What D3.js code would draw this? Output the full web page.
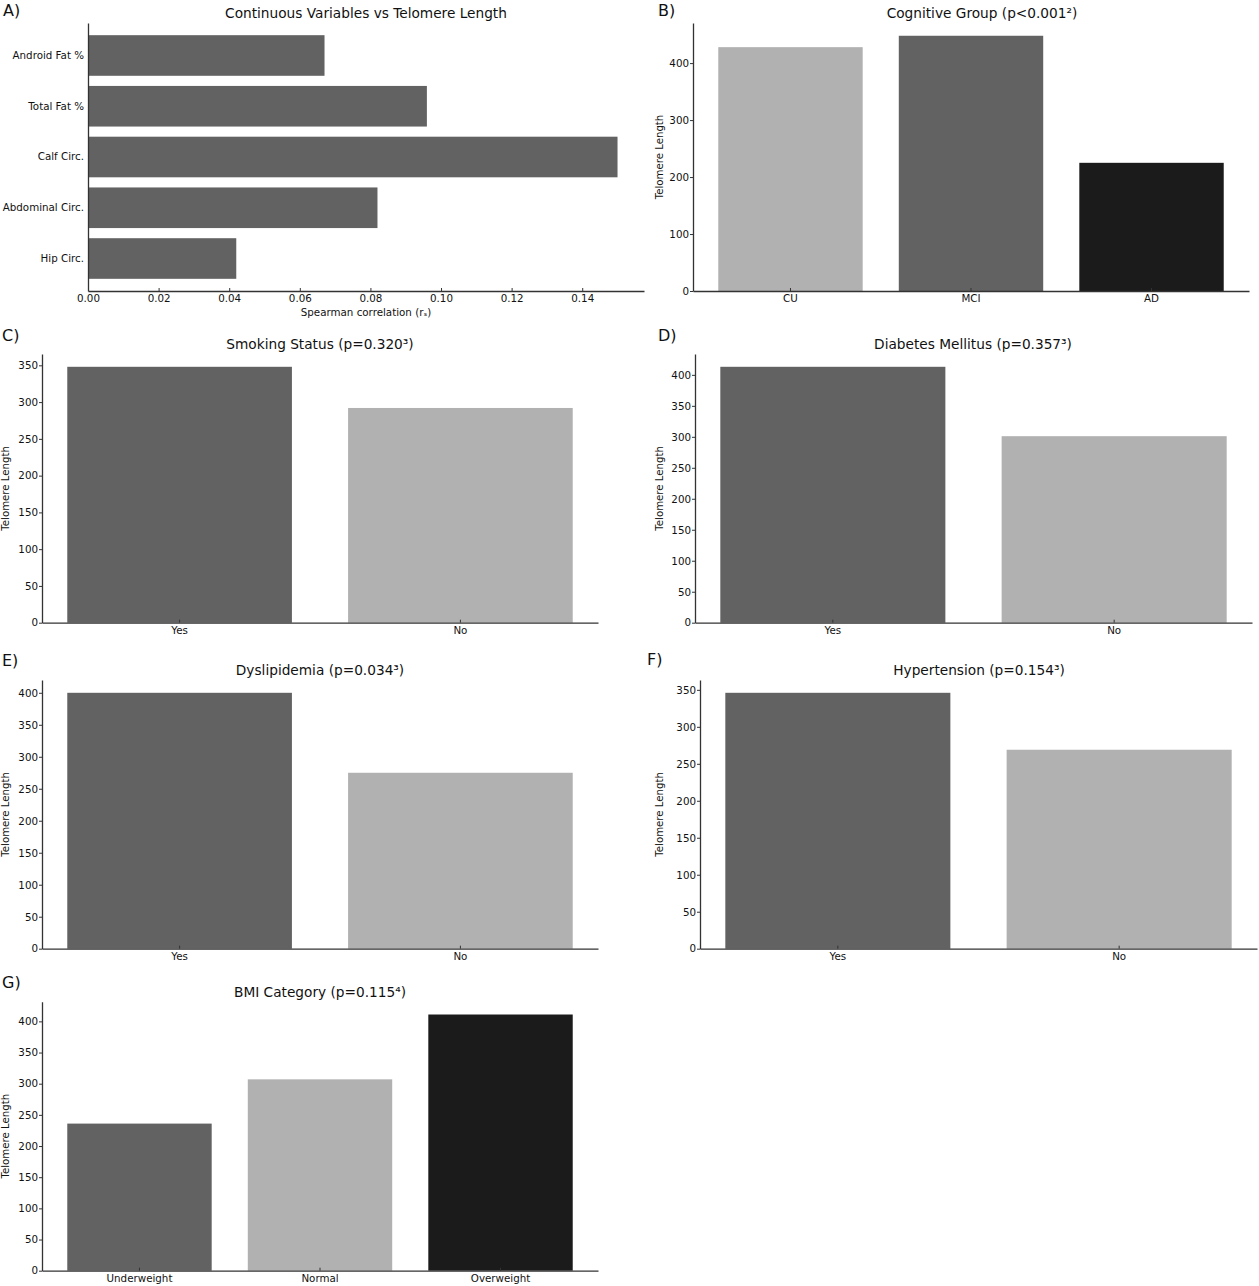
<!DOCTYPE html>
<html>
<head>
<meta charset="utf-8">
<script src="https://cdn.jsdelivr.net/npm/d3@7"></script>
<style>
body { margin: 0; background: #fff; }
text { font-family: "DejaVu Sans", sans-serif; fill: #111; }
</style>
</head>
<body>
<script>
// data
const contVars = ["Android Fat %", "Total Fat %", "Calf Circ.", "Abdominal Circ.", "Hip Circ."];
const contRho = [0.067, 0.096, 0.150, 0.082, 0.042];
const rhoTicks = [0, 0.02, 0.04, 0.06, 0.08, 0.10, 0.12, 0.14];

const cogGroups = ["CU", "MCI", "AD"];
const cogTL = [428, 448, 225];

const yesNo = ["Yes", "No"];
const smokingTL = [348, 292];
const diabetesTL = [413, 301];
const dyslipTL = [400, 275];
const hyperTL = [346, 269];

const bmiCats = ["Underweight", "Normal", "Overweight"];
const bmiTL = [236, 307, 411];

const titles = [
  "Continuous Variables vs Telomere Length",
  "Cognitive Group (p<0.001²)",
  "Smoking Status (p=0.320³)",
  "Diabetes Mellitus (p=0.357³)",
  "Dyslipidemia (p=0.034³)",
  "Hypertension (p=0.154³)",
  "BMI Category (p=0.115⁴)"
];
const letters = ["A)", "B)", "C)", "D)", "E)", "F)", "G)"];

const width = 1259, height = 1286;
const mid = "#626262", light = "#b1b1b1", dark = "#1b1b1b";

const svg = d3.select("body").append("svg")
  .attr("width", width)
  .attr("height", height);

// layout: [x0, y0, x1, y1] of each axes box, letter position, title centre, ylabel x
const panels = [
  {cats: contVars, vals: contRho, col: [mid, mid, mid, mid, mid], box: [88, 23, 644, 291], lx: 3, ly: 16, tx: 366},
  {cats: cogGroups, vals: cogTL, col: [light, mid, dark], box: [693, 23, 1249, 291], lx: 658, ly: 16, tx: 982, yl: 663, step: 100},
  {cats: yesNo, vals: smokingTL, col: [mid, light], box: [42, 354, 598, 622.7], lx: 2, ly: 341, tx: 320, yl: 9, step: 50},
  {cats: yesNo, vals: diabetesTL, col: [mid, light], box: [695, 354, 1252, 622.7], lx: 658, ly: 341, tx: 973, yl: 663, step: 50},
  {cats: yesNo, vals: dyslipTL, col: [mid, light], box: [42, 680, 598, 948.7], lx: 2, ly: 666, tx: 320, yl: 9, step: 50},
  {cats: yesNo, vals: hyperTL, col: [mid, light], box: [700, 680, 1257, 948.7], lx: 647, ly: 665, tx: 979, yl: 663, step: 50},
  {cats: bmiCats, vals: bmiTL, col: [mid, light, dark], box: [42, 1001.7, 598, 1270.7], lx: 2, ly: 988, tx: 320, yl: 9, step: 50}
];

function styleAxis(g) {
  g.attr("font-family", null).attr("font-size", null);
  g.select(".domain").attr("stroke", "#333").attr("stroke-width", 1.3);
  g.selectAll(".tick line").attr("stroke", "#333");
  g.selectAll(".tick text").style("font-size", "10.3px").attr("fill", "#111");
}

panels.forEach((p, i) => {
  const [x0, y0, x1, y1] = p.box;
  const n = p.cats.length;
  const g = svg.append("g");

  g.append("text")
    .attr("x", p.lx).attr("y", p.ly)
    .style("font-size", "16px")
    .text(letters[i]);

  g.append("text")
    .attr("x", p.tx).attr("y", y0 - 5)
    .attr("text-anchor", "middle")
    .style("font-size", "13.7px")
    .text(titles[i]);

  const band = d3.scaleBand()
    .domain(p.cats)
    .paddingInner(0.2)
    .paddingOuter(0.05 * (n - 0.2));

  if (i === 0) {
    // horizontal bars
    band.range([y0, y1]);
    const x = d3.scaleLinear().domain([0, d3.max(p.vals) * 1.05]).range([x0, x1]);

    g.selectAll("rect")
      .data(p.cats)
      .join("rect")
      .attr("x", x(0))
      .attr("y", d => band(d))
      .attr("width", (d, k) => x(p.vals[k]) - x(0))
      .attr("height", band.bandwidth())
      .attr("fill", (d, k) => p.col[k]);

    g.append("g")
      .attr("transform", `translate(0,${y1})`)
      .call(d3.axisBottom(x).tickValues(rhoTicks).tickFormat(d3.format(".2f"))
        .tickSizeInner(-3).tickSizeOuter(0).tickPadding(4))
      .call(styleAxis);

    g.append("g")
      .attr("transform", `translate(${x0},0)`)
      .call(d3.axisLeft(band).tickSize(0).tickPadding(4))
      .call(styleAxis);

    g.append("text")
      .attr("x", (x0 + x1) / 2).attr("y", y1 + 25)
      .attr("text-anchor", "middle")
      .style("font-size", "10.3px")
      .text("Spearman correlation (rₛ)");
  } else {
    band.range([x0, x1]);
    const y = d3.scaleLinear().domain([0, d3.max(p.vals) * 1.05]).range([y1, y0]);
    const ticks = d3.range(0, y.domain()[1], p.step);

    g.selectAll("rect")
      .data(p.cats)
      .join("rect")
      .attr("x", d => band(d))
      .attr("y", (d, k) => y(p.vals[k]))
      .attr("width", band.bandwidth())
      .attr("height", (d, k) => y(0) - y(p.vals[k]))
      .attr("fill", (d, k) => p.col[k]);

    g.append("g")
      .attr("transform", `translate(0,${y1})`)
      .call(d3.axisBottom(band).tickSizeInner(-3).tickSizeOuter(0).tickPadding(4))
      .call(styleAxis);

    g.append("g")
      .attr("transform", `translate(${x0},0)`)
      .call(d3.axisLeft(y).tickValues(ticks).tickFormat(d3.format("d"))
        .tickSizeInner(3).tickSizeOuter(0).tickPadding(1))
      .call(styleAxis);

    g.append("text")
      .attr("transform", `translate(${p.yl},${(y0 + y1) / 2}) rotate(-90)`)
      .attr("text-anchor", "middle")
      .style("font-size", "10.2px")
      .text("Telomere Length");
  }
});
</script>
</body>
</html>
